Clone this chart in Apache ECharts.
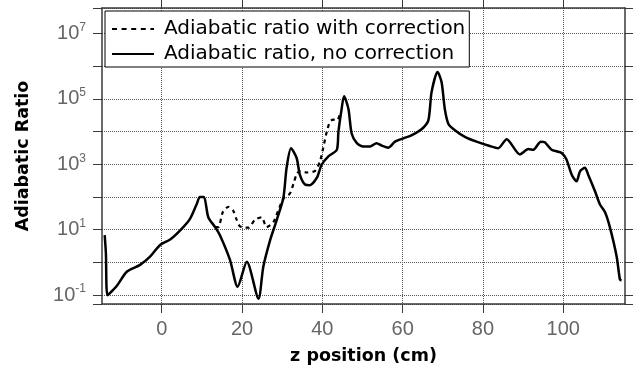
<!DOCTYPE html>
<html>
<head>
<meta charset="utf-8">
<script src="https://cdn.jsdelivr.net/npm/echarts@6/dist/echarts.min.js"></script>
<style>
  html, body { margin: 0; padding: 0; background: #fff; }
  #chart { width: 633px; height: 370px; }
</style>
</head>
<body>
<div id="chart"></div>
<script>
// Adiabatic ratio along the beam line, with and without the correction
const zNoCorrection = [-14.2, -13.9, -13.5, -11.2, -8.7, -5.4, -2.9, -0.4, 2.1, 4.6, 7.0, 8.7, 9.5, 10.5,
  11.6, 13.3, 14.5, 17.0, 18.9, 21.2, 24.1, 25.3, 27.0, 28.6, 30.3, 31.1, 32.2, 33.6, 34.4, 35.7,
  36.9, 38.6, 39.8, 41.5, 43.6, 44.0, 44.8, 45.4, 46.5, 47.3, 48.6, 50.2, 51.9, 53.5, 54.8, 56.4,
  58.1, 60.2, 62.3, 64.7, 66.4, 67.2, 68.7, 69.7, 70.5, 71.4, 73.0, 75.5, 78.4, 81.7, 83.8, 85.9,
  89.2, 91.3, 92.5, 94.4, 95.4, 97.1, 98.5, 99.6, 100.8, 102.1, 103.3, 104.2, 105.4, 106.2, 107.9,
  109.1, 110.4, 111.6, 113.3, 114.1, 114.5];
const ratioNoCorrection = [6.8, 1.9, 0.1, 0.19, 0.52, 0.84, 1.5, 3.4, 5.0, 9.5, 21, 60, 100, 100,
  24, 12, 6.8, 1.2, 0.18, 1.05, 0.078, 0.74, 4.8, 19, 95, 780, 3100, 1550, 480, 240,
  230, 380, 950, 1740, 2750, 9800, 49000, 120000, 49000, 8700, 4400, 3500, 3500, 4400, 3700, 3200,
  4900, 6200, 7800, 11700, 22000, 160000, 660000, 320000, 49000, 17000, 11000, 6900, 4900, 3600, 3100, 5800,
  2000, 2900, 2750, 4900, 4700, 2750, 2450, 2200, 1400, 480, 300, 620, 780, 480, 150,
  60, 34, 12, 1.5, 0.30, 0.28];

const zWithCorrection = [13.3, 14.1, 15.2, 16.6, 17.8, 18.6, 19.5, 21.6, 23.2, 24.9, 26.1, 27.8, 29.0,
  30.3, 31.9, 32.8, 33.6, 34.4, 36.1, 38.2, 39.4, 40.2, 41.1, 41.9, 42.7, 43.7, 44.5];
const ratioWithCorrection = [12, 12, 34, 50, 38, 21, 12.6, 11.5, 20, 24, 12, 17, 38,
  89, 126, 250, 500, 620, 560, 630, 1230, 3100, 9800, 20000, 23000, 22000, 40000];

const xTicks = [0, 20, 40, 60, 80, 100];

const seriesNames = ['Adiabatic ratio with correction', 'Adiabatic ratio, no correction'];
const xTitle = 'z position (cm)';
const yTitle = 'Adiabatic Ratio';

const pairs = (xs, ys) => xs.map((x, i) => [x, ys[i]]);

const X_MIN = -14.87, X_MAX = 115.37;
const Y_MIN = Math.pow(10, -1.271), Y_MAX = Math.pow(10, 7.775);

const frameColor = '#3a3a3a';
const gridLine = { show: true, lineStyle: { color: '#555', width: 1, type: [1, 1] } };
const tickFont = { fontFamily: 'Liberation Sans', fontSize: 20, color: '#666' };
const titleFont = { fontFamily: 'DejaVu Sans', fontWeight: 'bold', fontSize: 17.5, color: '#000' };

// decade labels: 10 with the exponent raised, odd decades only
function yLabel(v) {
  const e = Math.round(Math.log10(v));
  if (Math.abs(Math.log10(v) - e) > 1e-6) return '';
  if (Math.abs(e) % 2 !== 1) return '';
  return '{b|10}{s|' + e + '}';
}

const baseX = {
  type: 'value', min: X_MIN, max: X_MAX, splitNumber: 6,
  axisLine: { show: true, onZero: false, lineStyle: { color: frameColor, width: 1.5 } },
  axisTick: { show: true, inside: false, length: 9, customValues: xTicks, lineStyle: { color: frameColor, width: 1 } }
};
const baseY = {
  type: 'log', logBase: 10, min: Y_MIN, max: Y_MAX,
  axisLine: { show: true, onZero: false, lineStyle: { color: frameColor, width: 1.5 } },
  axisTick: { show: true, inside: false, length: 9, lineStyle: { color: frameColor, width: 1 } }
};

const chart = echarts.init(document.getElementById('chart'), null, { renderer: 'canvas' });
chart.setOption({
  animation: false,
  backgroundColor: '#fff',
  grid: { left: 102, right: 8, top: 8, height: 300, containLabel: false },
  legend: {
    orient: 'vertical', left: 105, top: 11,
    backgroundColor: '#fff', borderColor: '#000', borderWidth: 1,
    padding: [6, 4, 1, 6], itemGap: 1, itemWidth: 42, itemHeight: 10,
    itemStyle: { opacity: 0 },
    textStyle: { fontFamily: 'DejaVu Sans', fontSize: 20, color: '#000', lineHeight: 24, padding: [0, 0, 0, 5] },
    data: [
      { name: seriesNames[0], lineStyle: { type: [5, 4.6], width: 2 } },
      { name: seriesNames[1] }
    ]
  },
  xAxis: [
    Object.assign({}, baseX, {
      position: 'bottom',
      name: xTitle, nameLocation: 'middle', nameGap: 43,
      nameTextStyle: titleFont,
      axisLabel: Object.assign({ margin: 15, customValues: xTicks }, tickFont),
      splitLine: gridLine
    }),
    Object.assign({}, baseX, { position: 'top', axisLabel: { show: false }, splitLine: { show: false } })
  ],
  yAxis: [
    Object.assign({}, baseY, {
      position: 'left',
      name: yTitle, nameLocation: 'middle', nameGap: 70, nameRotate: 90,
      nameTextStyle: titleFont,
      axisLabel: {
        margin: 16, formatter: yLabel,
        rich: {
          b: tickFont,
          s: { fontFamily: 'Liberation Sans', fontSize: 12, color: '#666', padding: [0, 0, 12, 0] }
        }
      },
      splitLine: gridLine
    }),
    Object.assign({}, baseY, { position: 'right', axisLabel: { show: false }, splitLine: { show: false } })
  ],
  series: [
    {
      name: seriesNames[0], type: 'line', xAxisIndex: 0, yAxisIndex: 0,
      data: pairs(zWithCorrection, ratioWithCorrection),
      symbol: 'none', smooth: 0.25, z: 2,
      lineStyle: { color: '#000', width: 2.2, type: [4, 4] }, itemStyle: { color: '#000' }
    },
    {
      name: seriesNames[1], type: 'line', xAxisIndex: 0, yAxisIndex: 0,
      data: pairs(zNoCorrection, ratioNoCorrection),
      symbol: 'none', smooth: 0.25, z: 3,
      lineStyle: { color: '#000', width: 2.5 }, itemStyle: { color: '#000' }
    }
  ]
});
</script>
</body>
</html>
